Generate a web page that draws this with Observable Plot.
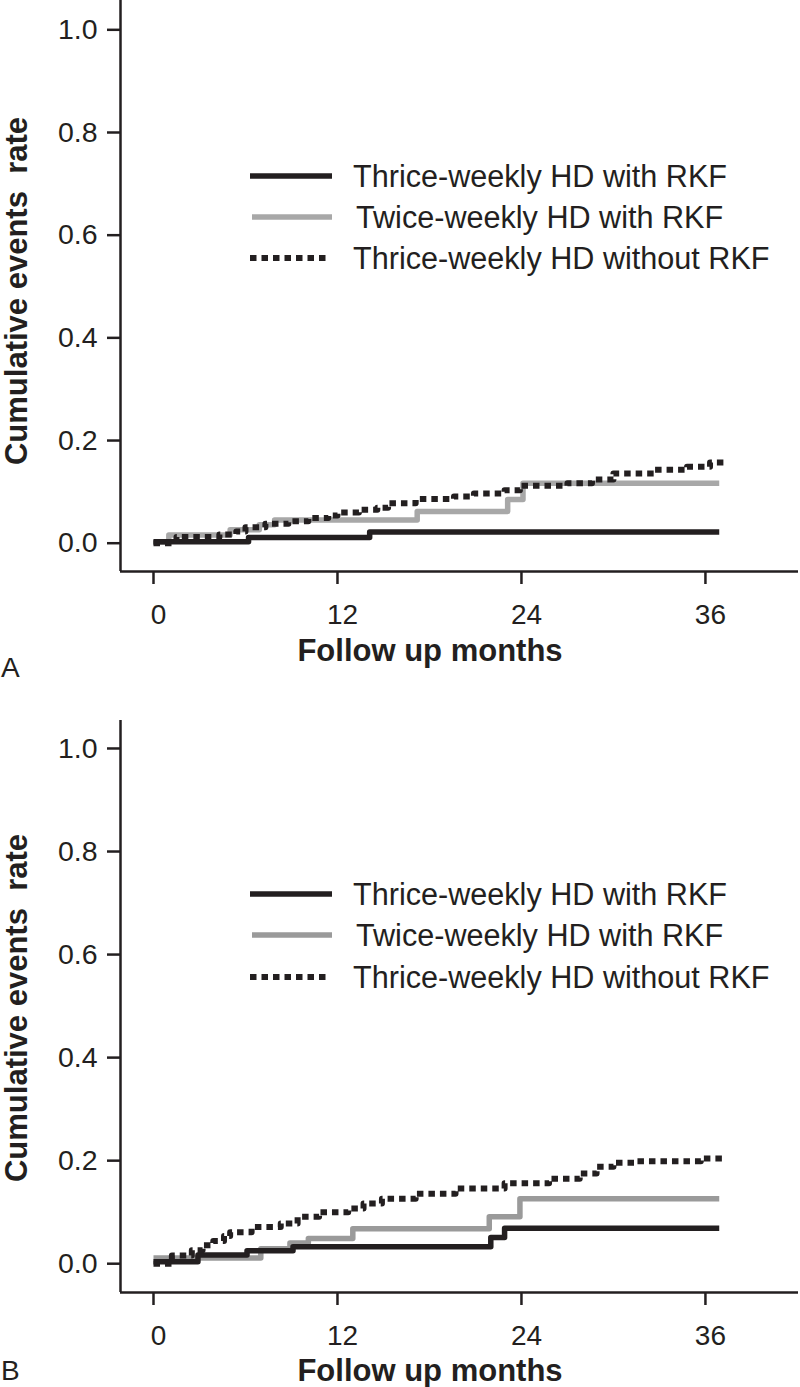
<!DOCTYPE html>
<html>
<head>
<meta charset="utf-8">
<script src="https://cdn.jsdelivr.net/npm/d3@7"></script>
<script src="https://cdn.jsdelivr.net/npm/@observablehq/plot@0.6"></script>
<style>
  html, body { margin: 0; padding: 0; background: #fff; }
  #chart svg { display: block; }
</style>
</head>
<body>
<div id="chart"></div>
<script>
// ---------- data ----------
const seriesLabels = [
  "Thrice-weekly HD with RKF",
  "Twice-weekly HD with RKF",
  "Thrice-weekly HD without RKF"
];
const monthTicks = [0, 12, 24, 36];
const rateTicks = [0, 0.2, 0.4, 0.6, 0.8, 1.0];
const panelLetters = ["A", "B"];
const xTitle = "Follow up months";
const yTitle = "Cumulative events  rate";

// Panel A  [month, cumulative rate]
const aThriceWithRKF = [[0, 0.003], [6.2, 0.011], [14.1, 0.022], [36.9, 0.022]];
const aTwiceWithRKF = [[0, 0.002], [1.0, 0.016], [5.0, 0.026], [6.9, 0.036], [7.9, 0.045],
  [17.2, 0.062], [23.1, 0.085], [24.1, 0.117], [36.9, 0.117]];
const aThriceWithoutRKF = [[0, 0.0], [1.5, 0.012], [4.3, 0.017], [5.4, 0.023], [6.0, 0.031],
  [7.3, 0.038], [8.8, 0.043], [10.1, 0.049], [11.4, 0.054], [12.0, 0.060], [13.4, 0.065],
  [14.6, 0.069], [15.3, 0.078], [17.1, 0.086], [19.6, 0.091], [20.9, 0.097], [22.9, 0.103],
  [23.9, 0.112], [27.0, 0.117], [28.6, 0.124], [30.0, 0.136], [32.7, 0.143], [34.8, 0.149],
  [36.3, 0.157], [37.2, 0.157]];

// Panel B
const bThriceWithRKF = [[0, 0.004], [2.9, 0.017], [6.1, 0.025], [9.1, 0.033], [22.0, 0.051],
  [22.9, 0.069], [36.9, 0.069]];
const bTwiceWithRKF = [[0, 0.011], [7.0, 0.029], [8.9, 0.040], [10.1, 0.049], [13.0, 0.068],
  [21.9, 0.091], [23.9, 0.126], [36.9, 0.126]];
const bThriceWithoutRKF = [[0, 0.0], [1.2, 0.016], [2.5, 0.026], [3.2, 0.036], [3.9, 0.044],
  [4.6, 0.054], [5.0, 0.061], [6.4, 0.071], [8.3, 0.078], [9.4, 0.091], [10.8, 0.100],
  [12.7, 0.107], [13.7, 0.117], [14.9, 0.126], [17.1, 0.136], [19.7, 0.146], [22.9, 0.156],
  [25.8, 0.165], [27.8, 0.175], [28.9, 0.188], [30.0, 0.196], [31.5, 0.199], [35.7, 0.204],
  [37.2, 0.204]];

// ---------- drawing ----------
const FONT = "'Liberation Sans', Arial, Helvetica, sans-serif";
const INK = "#231f20";
const X_DOMAIN = [-2.152, 42.07];

function drawPanel(cfg) {
  const rows = [];
  cfg.series.forEach((pts, i) =>
    pts.forEach(([m, r]) => rows.push({ month: m, rate: r, group: seriesLabels[i] })));
  const byGroup = g => rows.filter(d => d.group === g);
  const styles = [
    { stroke: INK, strokeWidth: 5.5, dash: null },
    { stroke: cfg.gray, strokeWidth: 5.5, dash: null },
    { stroke: INK, strokeWidth: 6, dash: "6.5,5" }
  ];
  const lineOpts = i => ({
    x: "month", y: "rate", curve: "step-after",
    stroke: styles[i].stroke, strokeWidth: styles[i].strokeWidth,
    strokeDasharray: styles[i].dash || undefined, strokeLinecap: "butt"
  });

  const plot = Plot.plot({
    width: 800,
    height: cfg.height,
    marginLeft: 120,
    marginRight: 2,
    marginTop: 0,
    marginBottom: cfg.height - cfg.frameBottom,
    x: { domain: X_DOMAIN },
    y: { domain: cfg.yDomain },
    style: { fontFamily: FONT, color: INK, background: "#fff", overflow: "visible" },
    marks: [
      Plot.axisY(rateTicks, { tickSize: 13, tickPadding: 10, fontSize: 28.5, strokeWidth: 2.5,
        tickFormat: d => d.toFixed(1), label: null }),
      Plot.axisX(monthTicks, { tickSize: 13, strokeWidth: 2.5, tickFormat: () => "", label: null }),
      Plot.axisX(monthTicks, { tickSize: 0, tickPadding: 33, dx: 5, fontSize: 28, label: null }),
      Plot.ruleX([X_DOMAIN[0]], { stroke: INK, strokeWidth: 2.5 }),
      Plot.ruleY([cfg.yDomain[0]], { stroke: INK, strokeWidth: 2.5 }),
      Plot.line(byGroup(seriesLabels[1]), lineOpts(1)),
      Plot.line(byGroup(seriesLabels[0]), lineOpts(0)),
      Plot.line(byGroup(seriesLabels[2]), lineOpts(2))
    ]
  });

  const svg = d3.select(plot);
  const lg = svg.append("g").attr("font-family", FONT).attr("text-anchor", "start");
  seriesLabels.forEach((name, i) => {
    const y = cfg.legendY[i];
    const s = styles[i];
    lg.append("line")
      .attr("x1", i === 1 ? 252 : 250).attr("x2", i === 2 ? 325.5 : 332)
      .attr("y1", y).attr("y2", y)
      .attr("stroke", s.stroke).attr("stroke-width", s.strokeWidth)
      .attr("stroke-dasharray", s.dash);
    lg.append("text")
      .attr("x", i === 1 ? 356 : 353).attr("y", y + 11)
      .attr("text-anchor", "start")
      .attr("font-size", 30.6).attr("fill", INK)
      .text(name);
  });

  svg.append("text")
    .attr("transform", `translate(27,${cfg.yTitleY}) rotate(-90)`)
    .attr("text-anchor", "middle")
    .attr("font-family", FONT).attr("font-weight", "bold").attr("font-size", 31)
    .attr("fill", INK).style("white-space", "pre")
    .text(yTitle);

  svg.append("text")
    .attr("x", 430).attr("y", 661)
    .attr("text-anchor", "middle")
    .attr("font-family", FONT).attr("font-weight", "bold").attr("font-size", 31)
    .attr("fill", INK)
    .text(xTitle);

  svg.append("text")
    .attr("x", 1).attr("y", cfg.letterY)
    .attr("text-anchor", "start")
    .attr("font-family", FONT).attr("font-size", 28).attr("fill", INK)
    .text(cfg.letter);

  document.getElementById("chart").appendChild(plot);
}

drawPanel({
  series: [aThriceWithRKF, aTwiceWithRKF, aThriceWithoutRKF],
  height: 720, frameBottom: 571,
  yDomain: [-0.0551, 1.0571],
  legendY: [176, 217, 258],
  yTitleY: 291,
  letterY: 677,
  letter: panelLetters[0],
  gray: "#a8a8a8"
});

drawPanel({
  series: [bThriceWithRKF, bTwiceWithRKF, bThriceWithoutRKF],
  height: 667, frameBottom: 572,
  yDomain: [-0.0559, 1.0543],
  legendY: [174, 215, 257],
  yTitleY: 288,
  letterY: 660,
  letter: panelLetters[1],
  gray: "#9a9a9a"
});
</script>
</body>
</html>
